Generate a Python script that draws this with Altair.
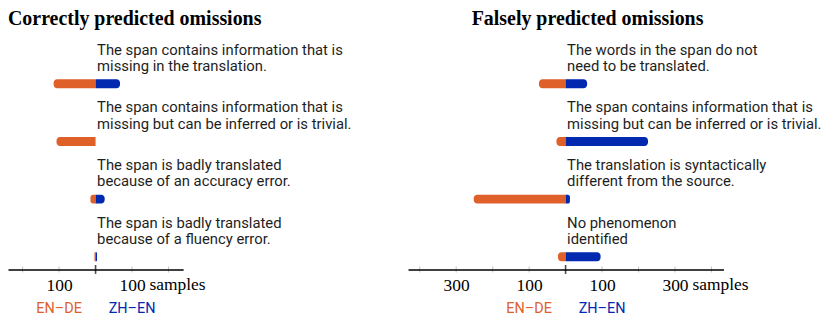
import altair as alt
import pandas as pd

# ---------------- data ----------------
left_title = "Correctly predicted omissions"
right_title = "Falsely predicted omissions"

left_labels = [
    ["The span contains information that is", "missing in the translation."],
    ["The span contains information that is", "missing but can be inferred or is trivial."],
    ["The span is badly translated", "because of an accuracy error."],
    ["The span is badly translated", "because of a fluency error."],
]
right_labels = [
    ["The words in the span do not", "need to be translated."],
    ["The span contains information that is", "missing but can be inferred or is trivial."],
    ["The translation is syntactically", "different from the source."],
    ["No phenomenon", "identified"],
]

left_en_de = [115, 107, 14, 3]
left_zh_en = [67, 0, 25, 4]
right_en_de = [73, 25, 252, 21]
right_zh_en = [59, 226, 12, 96]

left_domain = [-240, 240]
right_domain = [-432, 433]
left_ticks = [-200, -100, 0, 100, 200]
right_ticks = [-400, -300, -200, -100, 0, 100, 200, 300, 400]
left_tick_labels = [-100, 100]
right_tick_labels = [-300, -100, 100, 300]
unit_word = "samples"

langs = ["EN\u2013DE", "ZH\u2013EN"]
lang_colors = ["#E0602A", "#0029B0"]
lang_positions = [-100, 100]

# ---------------- styling ----------------
SANS = "Roboto, Liberation Sans, sans-serif"
SERIF = "Liberation Serif, Times New Roman, serif"
H = 240
ROW_RANGE = [53.3, 227.3]
ORANGE, BLUE = lang_colors


def panel(title, labels, en_de, zh_en, domain, ticks, tick_labels, width, title_dx):
    rows = list(range(len(labels)))
    df = pd.DataFrame({"row": rows, "label": labels, "en_de": en_de, "zh_en": zh_en})
    xs = alt.Scale(domain=domain, nice=False, zero=False)
    ys = alt.Scale(type="point", domain=rows, range=ROW_RANGE, padding=0)
    axis = alt.Axis(
        values=tick_labels,
        labelExpr="format(abs(datum.value), 'd')",
        ticks=False,
        grid=False,
        title=None,
        domainColor="black",
        domainWidth=1.6,
        labelFont=SERIF,
        labelFontSize=17.5,
        labelColor="black",
        labelBaseline="alphabetic",
        labelPadding=21,
        labelFlush=False,
        labelOverlap=False,
        zindex=1,
    )
    y = alt.Y("row:O", scale=ys, axis=None)
    base = alt.Chart(df)

    orange = (
        base.transform_calculate(neg="-datum.en_de", zero="0")
        .transform_filter("datum.en_de > 0")
        .mark_bar(color=ORANGE, size=9, cornerRadiusTopLeft=3.5, cornerRadiusBottomLeft=3.5)
        .encode(x=alt.X("neg:Q", scale=xs, axis=axis), x2="zero:Q", y=y)
    )
    blue = (
        base.transform_calculate(zero="0")
        .transform_filter("datum.zh_en > 0")
        .mark_bar(color=BLUE, size=9, cornerRadiusTopRight=3.5, cornerRadiusBottomRight=3.5)
        .encode(x=alt.X("zero:Q", scale=xs, axis=axis), x2="zh_en:Q", y=y)
    )
    text = (
        base.transform_calculate(zero="0")
        .mark_text(align="left", baseline="alphabetic", dx=1.5, dy=-29.3,
                   font=SANS, fontSize=14.9, lineHeight=16.6, color="#1e1e1e")
        .encode(x=alt.X("zero:Q", scale=xs, axis=axis), y=y, text="label")
    )

    tdf = pd.DataFrame({"v": ticks})
    tick_marks = (
        alt.Chart(tdf).transform_filter("datum.v != 0")
        .mark_tick(color="#a8a8a8", thickness=1, size=6, orient="vertical")
        .encode(x=alt.X("v:Q", scale=xs, axis=axis), y=alt.value(H))
    )
    zero_tick = (
        alt.Chart(tdf).transform_filter("datum.v == 0")
        .mark_tick(color="black", thickness=1.6, size=9, orient="vertical")
        .encode(x=alt.X("v:Q", scale=xs, axis=axis), y=alt.value(H))
    )
    sdf = pd.DataFrame({"v": [tick_labels[-1]], "t": [unit_word]})
    samples = (
        alt.Chart(sdf)
        .mark_text(align="left", baseline="alphabetic", dx=17.5, font=SERIF,
                   fontSize=17.5, color="black")
        .encode(x=alt.X("v:Q", scale=xs, axis=axis), y=alt.value(H + 21), text="t")
    )
    ldf = pd.DataFrame({"lang": langs, "pos": lang_positions, "color": lang_colors})
    legend = (
        alt.Chart(ldf)
        .mark_text(align="center", baseline="alphabetic", font=SANS, fontSize=14.5)
        .encode(x=alt.X("pos:Q", scale=xs, axis=axis), y=alt.value(H + 44),
                text="lang", color=alt.Color("color:N", scale=None))
    )
    tt = pd.DataFrame({"v": [domain[0]], "t": [title]})
    title_mark = (
        alt.Chart(tt)
        .mark_text(align="left", baseline="alphabetic", dx=title_dx, font=SERIF,
                   fontSize=20, fontWeight="bold", color="black")
        .encode(x=alt.X("v:Q", scale=xs, axis=axis), y=alt.value(-6), text="t")
    )
    return alt.layer(tick_marks, zero_tick, orange, blue, text, samples, legend,
                     title_mark).properties(width=width, height=H)


left = panel(left_title, left_labels, left_en_de, left_zh_en, left_domain,
             left_ticks, left_tick_labels, 176, 0)
right = panel(right_title, right_labels, right_en_de, right_zh_en, right_domain,
              right_ticks, right_tick_labels, 317, 64)

chart = (
    alt.hconcat(left, right, spacing=226, bounds="flush")
    .resolve_scale(x="independent", y="independent")
    .properties(padding=0, background="white")
    .configure_view(stroke=None)
)

chart.save("out.html", embed_options={"renderer": "svg", "actions": False})
